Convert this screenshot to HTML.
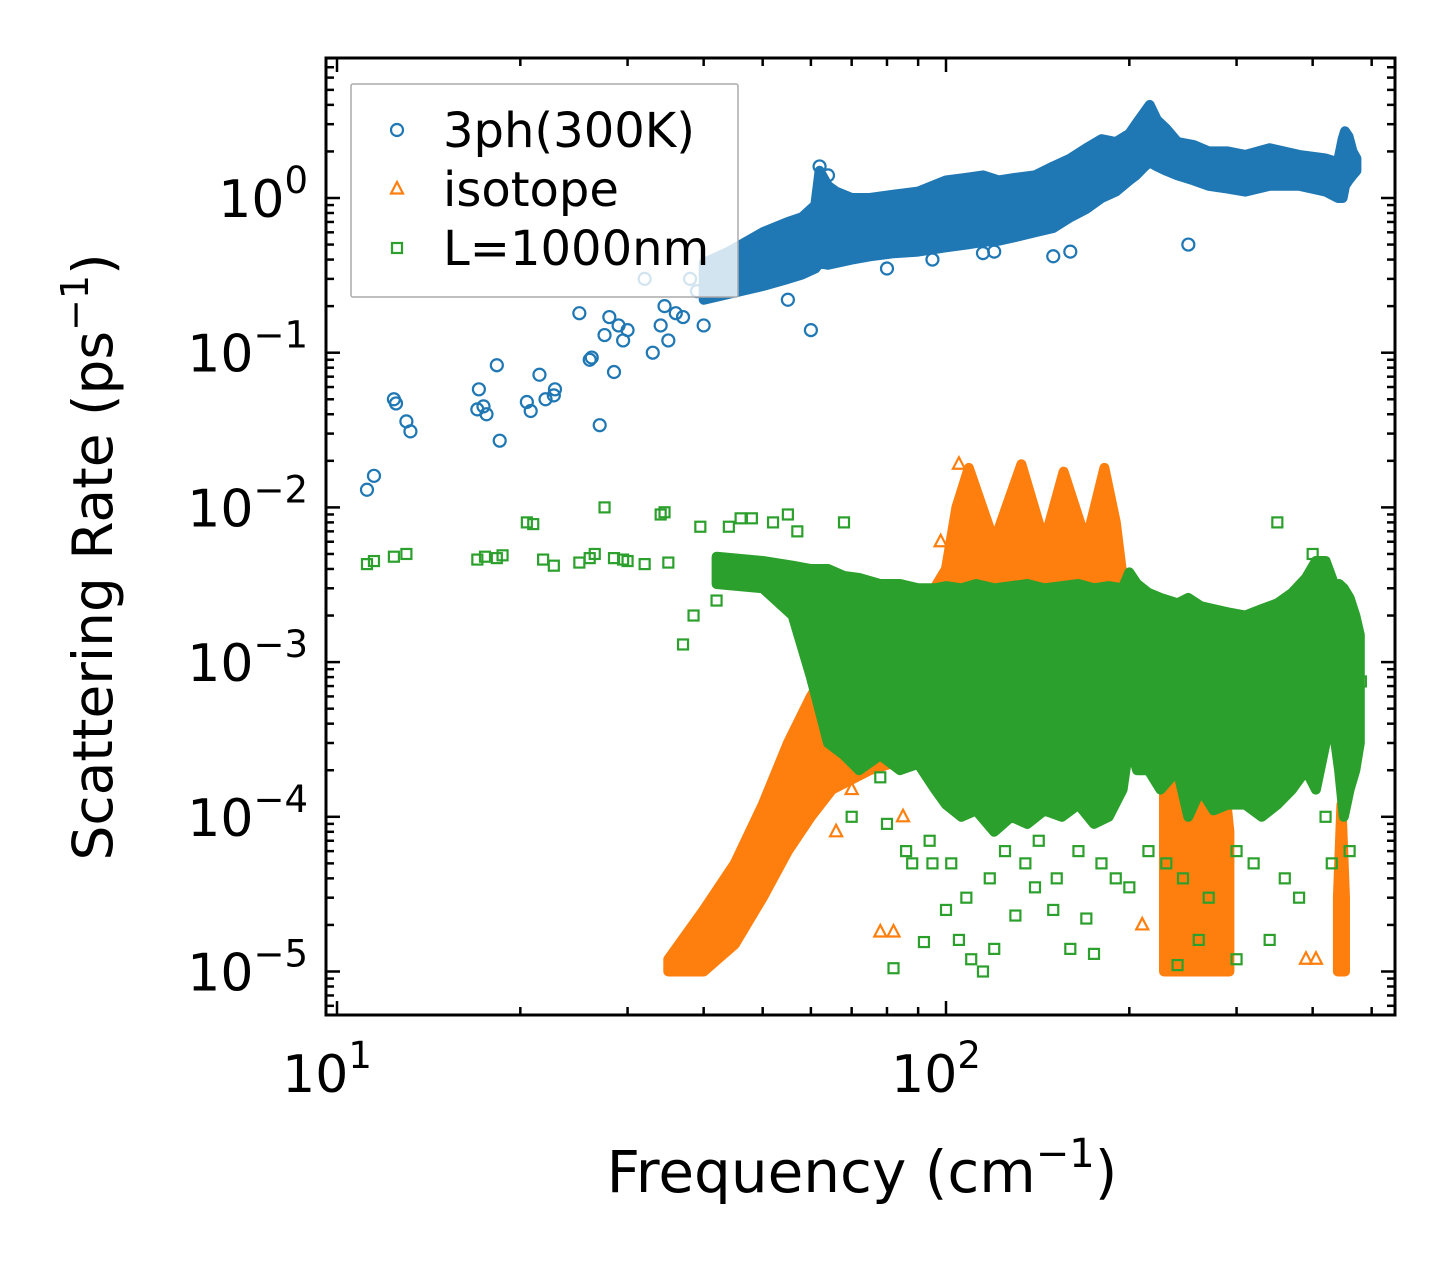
<!DOCTYPE html>
<html><head><meta charset="utf-8"><style>
html,body{margin:0;padding:0;background:#fff;}
svg{display:block;font-family:"DejaVu Sans","Liberation Sans",sans-serif;}
</style></head><body>
<svg id="chart" width="1455" height="1265" viewBox="0 0 1455 1265">
<rect x="0" y="0" width="1455" height="1265" fill="#fff"/>
<defs><clipPath id="plotclip"><rect x="326" y="58" width="1069" height="957"/></clipPath></defs>
<g id="marks" clip-path="url(#plotclip)"></g>
<g id="axes"></g>
<g id="legend"></g>
</svg>
<script>
// ---------- data ----------
const xTickValues = [10, 100];
const xTickLabels = ["1", "2"];
const yTickValues = [1, 0.1, 0.01, 0.001, 0.0001, 0.00001];
const yTickLabels = ["0", "\u22121", "\u22122", "\u22123", "\u22124", "\u22125"];

// 3ph dense band envelope
const bandBlueFreq = [40,44,50,55,58,61,62,64,66,70,75,82,90,100,108,115,122,130,140,150,160,170,180,190,200,205,212,216,222,230,240,255,270,290,310,340,380,420,440,448,452,458,465,472];
const bandBlueLo   = [0.22,0.24,0.27,0.3,0.32,0.35,0.38,0.37,0.38,0.4,0.42,0.44,0.45,0.48,0.5,0.52,0.53,0.56,0.6,0.64,0.75,0.85,1.0,1.1,1.3,1.4,1.6,1.7,1.6,1.5,1.4,1.3,1.2,1.15,1.1,1.2,1.2,1.1,1.0,1.0,1.2,1.3,1.4,1.5];
const bandBlueHi   = [0.38,0.45,0.6,0.7,0.75,0.9,1.5,1.2,1.1,1.0,1.0,1.05,1.1,1.3,1.35,1.4,1.3,1.35,1.4,1.6,1.8,2.1,2.4,2.3,2.6,3.0,3.6,4.0,3.2,2.8,2.3,2.2,2.0,2.0,1.9,2.1,1.9,1.8,1.7,2.4,2.7,2.5,2.0,1.8];
// 3ph individual points
const blueFreq = [11.2,11.5,12.4,12.5,13,13.2,17,17.1,17.4,17.6,18.3,18.5,20.5,20.8,21.5,22,22.7,22.8,25,26,26.2,27,27.5,28,28.5,29,29.5,30,32,33,34,34.5,35,36,37,38,39,40,41,44,46,48,52,55,60,62,64,80,95,120,160,250,150,115];
const blueRate = [0.013,0.016,0.05,0.047,0.036,0.031,0.043,0.058,0.045,0.04,0.083,0.027,0.048,0.042,0.072,0.05,0.053,0.058,0.18,0.09,0.093,0.034,0.13,0.17,0.075,0.15,0.12,0.14,0.3,0.1,0.15,0.2,0.12,0.18,0.17,0.3,0.25,0.15,0.3,0.35,0.45,0.5,0.4,0.22,0.14,1.6,1.4,0.35,0.4,0.45,0.45,0.5,0.42,0.44];

// isotope dense band envelope
const bandOrangeFreq = [35,40,45,50,55,60,65,75,90,100,104,109,120,133,145,156,170,182,190,196,200];
const bandOrangeLo   = [1e-5,1e-5,1.5e-5,3e-5,6e-5,1e-4,1.5e-4,2e-4,2.5e-4,3e-4,3e-4,3e-4,3e-4,3e-4,3e-4,3e-4,3e-4,3e-4,3e-4,3e-4,3e-4];
const bandOrangeHi   = [1.2e-5,2.5e-5,5e-5,1.2e-4,3e-4,6e-4,1e-3,1.5e-3,2e-3,4e-3,1e-2,1.8e-2,6e-3,1.9e-2,6e-3,1.7e-2,6e-3,1.8e-2,8e-3,3e-3,1e-3];
const bandOrange2Freq = [228,240,255,270,285,292];
const bandOrange2Lo   = [1e-5,1e-5,1e-5,1e-5,1e-5,1e-5];
const bandOrange2Hi   = [6e-4,3e-4,1.5e-4,2.5e-4,2e-4,8e-5];
const bandOrange3Freq = [440,446,452];
const bandOrange3Lo   = [1e-5,1e-5,1e-5];
const bandOrange3Hi   = [3e-5,1.2e-4,3e-5];
// isotope individual points
const orangeFreq = [36,38,42,47,52,56,60,66,70,78,82,85,98,105,118,200,210,390,405];
const orangeRate = [1.1e-5,1.2e-5,2e-5,3e-5,6e-5,1.7e-4,2.5e-4,8e-5,1.5e-4,1.8e-5,1.8e-5,1e-4,6e-3,1.9e-2,2e-4,6e-4,2e-5,1.2e-5,1.2e-5];

// L=1000nm dense band envelope
const bandGreenFreq = [42,50,56,60,64,68,72,78,84,90,96,100,106,112,120,128,136,145,155,165,175,185,195,200,206,215,225,240,250,262,275,290,310,330,350,370,390,405,420,430,436,442,450,460,470,478];
const bandGreenLo   = [3.2e-3,3e-3,2e-3,8e-4,3e-4,2.5e-4,2e-4,2.5e-4,2e-4,2.2e-4,1.5e-4,1.2e-4,1e-4,1.1e-4,8e-5,1e-4,9e-5,1.1e-4,1e-4,1.2e-4,9e-5,1e-4,1.5e-4,3e-4,2e-4,2e-4,1.5e-4,2e-4,1e-4,1.5e-4,1.1e-4,1.2e-4,1.2e-4,1e-4,1.2e-4,1.5e-4,2e-4,1.5e-4,3e-4,5e-4,3e-4,2e-4,1e-4,1.5e-4,2e-4,3e-4];
const bandGreenHi   = [4.8e-3,4.5e-3,4.2e-3,4e-3,4e-3,3.6e-3,3.5e-3,3.2e-3,3.2e-3,3e-3,3e-3,3.1e-3,3e-3,3.2e-3,3e-3,3.1e-3,3.2e-3,3e-3,3.1e-3,3.2e-3,3e-3,3.1e-3,3e-3,3.8e-3,3.2e-3,2.8e-3,2.6e-3,2.4e-3,2.6e-3,2.3e-3,2.2e-3,2.1e-3,2e-3,2.2e-3,2.4e-3,2.8e-3,3.5e-3,4.5e-3,4.5e-3,3.5e-3,3e-3,3.2e-3,3e-3,2.6e-3,2e-3,1.5e-3];
// L=1000nm individual points
const greenFreq = [11.2,11.5,12.4,13,17,17.5,18.3,18.7,20.5,21,21.8,22.7,25,26,26.5,27.5,28.5,29.5,30,32,34,34.5,35,37,38.5,39.5,42,44,46,48,52,55,57,60,63,66,68,75,78,82,88,92,95,100,105,110,115,120,130,140,150,160,170,175,190,240,260,300,340,350,400,420,480,70,80,86,94,102,108,118,125,135,142,152,165,180,200,215,230,245,270,300,320,360,380,430,460];
const greenRate = [4.3e-3,4.5e-3,4.8e-3,5e-3,4.6e-3,4.8e-3,4.7e-3,4.9e-3,8e-3,7.8e-3,4.6e-3,4.2e-3,4.4e-3,4.7e-3,5e-3,1e-2,4.7e-3,4.6e-3,4.5e-3,4.3e-3,9e-3,9.3e-3,4.4e-3,1.3e-3,2e-3,7.5e-3,2.5e-3,7.5e-3,8.5e-3,8.5e-3,8e-3,9e-3,7e-3,1.3e-3,8e-4,5e-4,8e-3,3e-3,1.8e-4,1.05e-5,5e-5,1.55e-5,5e-5,2.5e-5,1.6e-5,1.2e-5,1e-5,1.4e-5,2.3e-5,3.5e-5,2.5e-5,1.4e-5,2.2e-5,1.3e-5,4e-5,1.1e-5,1.6e-5,1.2e-5,1.6e-5,8e-3,5e-3,1e-4,7.5e-4,1e-4,9e-5,6e-5,7e-5,5e-5,3e-5,4e-5,6e-5,5e-5,7e-5,4e-5,6e-5,5e-5,3.5e-5,6e-5,5e-5,4e-5,3e-5,6e-5,5e-5,4e-5,3e-5,5e-5,6e-5];

// ---------- scales ----------
const X0 = 337, XDEC = 609, Y0 = 198, YDEC = 154.7;
function sx(f){ return X0 + XDEC*(Math.log10(f) - 1); }
function sy(r){ return Y0 - YDEC*Math.log10(r); }

const NS = "http://www.w3.org/2000/svg";
const marks = document.getElementById('marks');
const axes = document.getElementById('axes');
const legend = document.getElementById('legend');
function mk(tag, attrs, parent){
  const e = document.createElementNS(NS, tag);
  for (const k in attrs) e.setAttribute(k, attrs[k]);
  parent.appendChild(e);
  return e;
}
const C_BLUE = "#1f77b4", C_OR = "#ff7f0e", C_GR = "#2ca02c";

function drawBand(freq, lo, hi, color, name){
  let pts = [];
  for (let i = 0; i < freq.length; i++) pts.push(sx(freq[i]).toFixed(1) + "," + sy(hi[i]).toFixed(1));
  for (let i = freq.length - 1; i >= 0; i--) pts.push(sx(freq[i]).toFixed(1) + "," + sy(lo[i]).toFixed(1));
  const p = mk('polygon', {points: pts.join(" "), fill: color, stroke: color, 'stroke-width': 10, 'stroke-linejoin': 'round'}, marks);
  
  
}
function circle(f, r, name){
  const c = mk('circle', {cx: sx(f), cy: sy(r), r: 6, fill: 'none', stroke: C_BLUE, 'stroke-width': 2.2}, marks);
  
  
}
function tri(f, r, name){
  const x = sx(f), y = sy(r);
  const t = mk('polygon', {points: `${x},${y-7} ${x-6},${y+4.5} ${x+6},${y+4.5}`, fill: 'none', stroke: C_OR, 'stroke-width': 2.2}, marks);
  
  
}
function sq(f, r, name){
  const s = mk('rect', {x: sx(f)-5, y: sy(r)-5, width: 10, height: 10, fill: 'none', stroke: C_GR, 'stroke-width': 2.2}, marks);
  
  
}

// blue
drawBand(bandBlueFreq, bandBlueLo, bandBlueHi, C_BLUE, 'band-3ph');
for (let i = 0; i < blueFreq.length; i++) circle(blueFreq[i], blueRate[i], 'point-3ph');
// orange
drawBand(bandOrangeFreq, bandOrangeLo, bandOrangeHi, C_OR, 'band-isotope');
drawBand(bandOrange2Freq, bandOrange2Lo, bandOrange2Hi, C_OR, 'band-isotope-high');
drawBand(bandOrange3Freq, bandOrange3Lo, bandOrange3Hi, C_OR, 'band-isotope-edge');
for (let i = 0; i < orangeFreq.length; i++) tri(orangeFreq[i], orangeRate[i], 'point-isotope');
// green
drawBand(bandGreenFreq, bandGreenLo, bandGreenHi, C_GR, 'band-boundary');
for (let i = 0; i < greenFreq.length; i++) sq(greenFreq[i], greenRate[i], 'point-boundary');

// ---------- axes ----------
const L = 326, R = 1395, T = 58, B = 1015;
const frame = mk('rect', {x: L, y: T, width: R-L, height: B-T, fill: 'none', stroke: '#000', 'stroke-width': 3}, axes);



function tickLine(x1, y1, x2, y2){
  const l = mk('line', {x1, y1, x2, y2, stroke: '#000', 'stroke-width': 2.5}, axes);
  
  
}
for (let d = 1; d <= 2; d++){
  for (let m = 1; m <= 9; m++){
    const f = m * Math.pow(10, d);
    const x = sx(f);
    if (x < L || x > R) continue;
    const len = m === 1 ? 14 : 8;
    tickLine(x, B, x, B - len);
    tickLine(x, T, x, T + len);
  }
}
for (let d = -6; d <= 0; d++){
  for (let m = 1; m <= 9; m++){
    const r = m * Math.pow(10, d);
    const y = sy(r);
    if (y < T || y > B) continue;
    const len = m === 1 ? 14 : 8;
    tickLine(L, y, L + len, y);
    tickLine(R, y, R - len, y);
  }
}
// x tick labels
for (let i = 0; i < xTickValues.length; i++){
  const t = mk('text', {x: sx(xTickValues[i]) - 10, y: 1092, 'font-size': 52, 'text-anchor': 'middle', fill: '#000'}, axes);
  
  
  t.textContent = "10";
  const s = mk('tspan', {dy: -24, 'font-size': 37}, t);
  s.textContent = xTickLabels[i];
}
// y tick labels
for (let i = 0; i < yTickValues.length; i++){
  const t = mk('text', {x: 308, y: sy(yTickValues[i]) + 19, 'font-size': 52, 'text-anchor': 'end', fill: '#000'}, axes);
  
  
  t.textContent = "10";
  const s = mk('tspan', {dy: -24, 'font-size': 37}, t);
  s.textContent = yTickLabels[i];
}
// axis titles
const xt = mk('text', {x: 862, y: 1192, 'font-size': 58, 'text-anchor': 'middle', fill: '#000'}, axes);


xt.innerHTML = 'Frequency (cm<tspan dy="-25" font-size="40">\u22121</tspan><tspan dy="25">)</tspan>';
const yt = mk('text', {x: 0, y: 0, 'font-size': 55, 'text-anchor': 'middle', fill: '#000', transform: 'translate(112,557) rotate(-90)'}, axes);


yt.innerHTML = 'Scattering Rate (ps<tspan dy="-24" font-size="38">\u22121</tspan><tspan dy="24">)</tspan>';

// ---------- legend ----------
const lb = mk('rect', {x: 351, y: 84, width: 387, height: 213, fill: '#fff', 'fill-opacity': 0.8, stroke: '#aaa', 'stroke-width': 1.5, rx: 2}, legend);


const legendLabels = ["3ph(300K)", "isotope", "L=1000nm"];
const legendY = [130, 189, 248];
for (let i = 0; i < legendLabels.length; i++){
  const y = legendY[i], x = 397;
  let m;
  if (i === 0) m = mk('circle', {cx: x, cy: y, r: 6, fill: 'none', stroke: C_BLUE, 'stroke-width': 2.2}, legend);
  else if (i === 1) m = mk('polygon', {points: `${x},${y-7} ${x-6},${y+4.5} ${x+6},${y+4.5}`, fill: 'none', stroke: C_OR, 'stroke-width': 2.2}, legend);
  else m = mk('rect', {x: x-5, y: y-5, width: 10, height: 10, fill: 'none', stroke: C_GR, 'stroke-width': 2.2}, legend);
  
  
  const t = mk('text', {x: 443, y: y + 17, 'font-size': 48, fill: '#000'}, legend);
  
  
  t.textContent = legendLabels[i];
}
</script>
</body></html>
